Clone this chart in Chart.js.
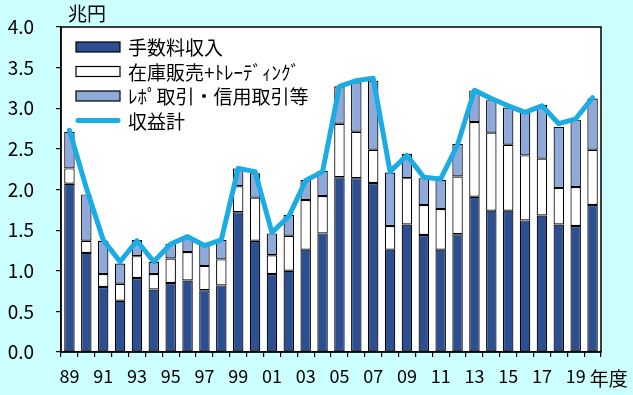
<!DOCTYPE html>
<html>
<head>
<meta charset="utf-8">
<script src="https://cdn.jsdelivr.net/npm/chart.js@4/dist/chart.umd.min.js"></script>
<style>
    html, body { margin:0; padding:0; background:#ccffff; }
    #wrap { width:633px; height:395px; }
</style>
</head>
<body>
<div id="wrap"><canvas id="id_chart" width="633" height="395"></canvas></div>
<script>
// 年度 (89 ～ 20)
var years = ['89','90','91','92','93','94','95','96','97','98',
             '99','00','01','02','03','04','05','06','07','08',
             '09','10','11','12','13','14','15','16','17','18',
             '19','20'];

// 手数料収入 (兆円)
var feeIncome = [2.07,1.22,0.80,0.63,0.91,0.77,0.85,0.88,0.76,0.82,
                 1.72,1.37,0.96,1.00,1.26,1.46,2.15,2.14,2.08,1.26,
                 1.57,1.44,1.26,1.45,1.91,1.74,1.74,1.62,1.68,1.57,
                 1.55,1.81];

// 在庫販売+ﾄﾚｰﾃﾞｨﾝｸﾞ
var tradingIncome = [0.19,0.15,0.16,0.21,0.27,0.19,0.30,0.35,0.30,0.32,
                     0.32,0.53,0.23,0.43,0.61,0.46,0.66,0.57,0.41,0.29,
                     0.57,0.37,0.50,0.71,0.92,0.96,0.81,0.80,0.70,0.45,
                     0.48,0.68];

// ﾚﾎﾟ取引・信用取引等
var repoIncome = [0.45,0.57,0.41,0.25,0.20,0.15,0.18,0.17,0.26,0.24,
                  0.22,0.30,0.27,0.26,0.25,0.31,0.46,0.61,0.85,0.66,
                  0.30,0.33,0.36,0.40,0.39,0.40,0.46,0.53,0.66,0.75,
                  0.83,0.63];

// 収益計
var totalIncome = [2.73,2.02,1.38,1.11,1.37,1.11,1.33,1.42,1.31,1.38,
                   2.26,2.22,1.47,1.67,2.11,2.22,3.27,3.34,3.37,2.22,
                   2.42,2.15,2.13,2.55,3.22,3.12,3.03,2.95,3.03,2.81,
                   2.87,3.13];

var yTicks = [0, 0.5, 1, 1.5, 2, 2.5, 3, 3.5, 4];

var FONT = "'Noto Sans CJK JP', 'Noto Sans', sans-serif";
var COLOR_DARK = '#2c4f92';
var COLOR_LIGHT = '#8eaadb';
var COLOR_LINE = '#1aace3';

// 背景・枠・単位・凡例を描く
var decorPlugin = {
    id : 'decor',
    beforeDraw : function(chart){
        var ctx = chart.ctx, a = chart.chartArea;
        ctx.save();
        ctx.fillStyle = '#ccffff';
        ctx.fillRect(0, 0, chart.width, chart.height);
        ctx.fillStyle = '#ffffff';
        ctx.fillRect(a.left, a.top, a.right - a.left, a.bottom - a.top);
        ctx.restore();
    },
    afterDraw : function(chart){
        var ctx = chart.ctx, a = chart.chartArea;
        ctx.save();
        ctx.strokeStyle = '#000';
        ctx.lineWidth = 1.5;
        ctx.strokeRect(a.left, a.top, a.right - a.left, a.bottom - a.top);

        ctx.fillStyle = '#000';
        ctx.font = '19px ' + FONT;
        ctx.textBaseline = 'middle';
        ctx.textAlign = 'left';
        ctx.fillText('兆円', a.left + 7, 14);

        // "年度" は 19 のラベルの右
        var xs = chart.scales.x;
        ctx.fillText('年度', xs.getPixelForValue(years.length - 2) + 14, 379);

        // 凡例 (縦並び)
        var sets = chart.data.datasets;
        var n = sets.length, i, ds, y;
        for( i = 0; i < n; i++ ){
            ds = sets[i];
            y = 47 + i * 24.5;
            if( ds.type === 'line' ){
                ctx.strokeStyle = ds.borderColor;
                ctx.lineWidth = 5;
                ctx.lineCap = 'round';
                ctx.beginPath();
                ctx.moveTo(78, y);
                ctx.lineTo(118, y);
                ctx.stroke();
            }else{
                ctx.fillStyle = ds.backgroundColor;
                ctx.fillRect(76, y - 5, 44, 10);
                ctx.strokeStyle = '#000';
                ctx.lineWidth = 1.2;
                ctx.strokeRect(76, y - 5, 44, 10);
            }
            ctx.fillStyle = '#000';
            ctx.fillText(ds.label, 128, y + 1);
        }
        ctx.restore();
    }
};

var barSet = function(label, data, color){
    return {
        type : 'bar',
        label : label,
        data : data,
        backgroundColor : color,
        borderColor : '#000',
        borderWidth : 1.2,
        borderSkipped : false,
        categoryPercentage : 1.0,
        barPercentage : 0.62,
        stack : 'income',
        order : 1
    };
};

var ctx = document.getElementById('id_chart').getContext('2d');
var myChart = new Chart(ctx, {
    data : {
        labels : years,
        datasets : [
            barSet('手数料収入', feeIncome, COLOR_DARK),
            barSet('在庫販売+ﾄﾚｰﾃﾞｨﾝｸﾞ', tradingIncome, '#ffffff'),
            barSet('ﾚﾎﾟ取引・信用取引等', repoIncome, COLOR_LIGHT),
            {
                type : 'line',
                label : '収益計',
                data : totalIncome,
                borderColor : COLOR_LINE,
                backgroundColor : COLOR_LINE,
                borderWidth : 5,
                borderCapStyle : 'round',
                borderJoinStyle : 'round',
                pointRadius : 0,
                tension : 0,
                fill : false,
                stack : 'total',
                order : 0
            }
        ]
    },
    options : {
        responsive : false,
        animation : false,
        layout : { padding : { top : 27, right : 32, left : 0, bottom : 0 } },
        plugins : {
            legend : { display : false },
            tooltip : { enabled : false }
        },
        scales : {
            x : {
                stacked : true,
                grid : { drawOnChartArea : false, color : '#000', tickLength : 5, lineWidth : 1.2 },
                border : { display : true, color : '#000', width : 1.5 },
                ticks : {
                    autoSkip : false,
                    maxRotation : 0,
                    padding : 8,
                    color : '#000',
                    font : { family : FONT, size : 18 },
                    callback : function(val, idx){
                        return (idx % 2 === 0 && idx < years.length - 1) ? years[idx] : '';
                    }
                },
                afterFit : function(scale){
                    scale.height = 43;
                    scale.paddingLeft = 0;
                    scale.paddingRight = 0;
                }
            },
            y : {
                stacked : true,
                min : 0,
                max : 4,
                grid : { drawOnChartArea : false, color : '#000', tickLength : 5, lineWidth : 1.2 },
                border : { display : true, color : '#000', width : 1.5 },
                afterBuildTicks : function(scale){
                    scale.ticks = yTicks.map(function(v){ return { value : v }; });
                },
                ticks : {
                    padding : 22,
                    color : '#000',
                    font : { family : FONT, size : 19 },
                    callback : function(val){ return val.toFixed(1); }
                },
                afterFit : function(scale){
                    scale.width = 61;
                    scale.paddingTop = 0;
                    scale.paddingBottom = 0;
                }
            }
        }
    },
    plugins : [decorPlugin]
});
</script>
</body>
</html>
